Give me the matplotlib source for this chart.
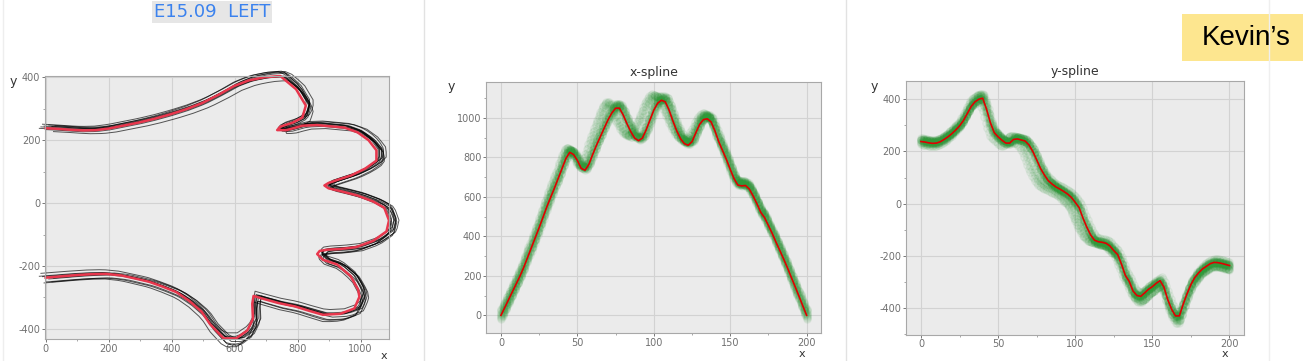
import numpy as np
import matplotlib
matplotlib.use("Agg")
import matplotlib.pyplot as plt
from matplotlib.lines import Line2D
from matplotlib.patches import Rectangle
from matplotlib.ticker import MultipleLocator

plt.rcParams["axes.unicode_minus"] = False

# mean spline, sampled every 2.5 steps of t
t_knots = np.arange(0, 200.1, 2.5)
x_mean = [0, 40, 80, 120, 160, 200, 245, 295, 345, 395,
          445, 497, 550, 598, 645, 695, 745, 795, 826, 815,
          785, 745, 735, 765, 815, 862, 905, 948, 990, 1025,
          1050, 1050, 1015, 970, 930, 898, 885, 898, 940, 990,
          1040, 1075, 1090, 1082, 1040, 985, 935, 895, 870, 862,
          880, 925, 968, 992, 996, 980, 935, 880, 835, 790,
          740, 693, 660, 656, 658, 640, 605, 565, 522, 495,
          455, 415, 370, 328, 285, 240, 192, 145, 97, 48,
          0]
y_mean = [238, 236, 233, 231, 232, 237, 246, 256, 268, 282,
          298, 318, 345, 372, 390, 400, 404, 362, 310, 272,
          256, 243, 232, 232, 246, 248, 244, 240, 225, 200,
          168, 135, 110, 88, 75, 64, 56, 47, 37, 24,
          5, -15, -55, -90, -120, -140, -146, -148, -152, -162,
          -180, -195, -232, -275, -298, -335, -352, -355, -342, -328,
          -318, -305, -295, -320, -368, -405, -430, -430, -385, -345,
          -310, -283, -265, -250, -240, -230, -225, -226, -229, -233,
          -237]

# individual traces: time shift at warp knots, scale and offset
warp_knots = [0, 25, 50, 75, 100, 125, 150, 175, 200]
trace_shift = [
    [0, 1, 2, 7, 6, 2, 1, 0, 0],
    [0, 1, 3, 8, 5, 1, 0, 0, 0],
    [0, 0, 1, 5, 4, 1, 0, 0, 0],
    [0, 0, 0, 0, 0, 0, 0, 0, 0],
    [0, -1, -1, -1, -1, -1, -1, 0, 0],
    [0, 0, -1, -1, -2, -1, -1, -1, 0],
    [0, 1, 0, -1, -1, -2, -1, 0, 0],
    [0, 0, 0, 1, 0, 0, 0, 0, 0],
    [0, -1, 0, -1, -1, -1, 0, 0, 0],
    [0, 0, 1, 0, 1, 0, 1, 0, 0],
]
trace_sx = [1.02, 1.00, 1.03, 1.01, 0.99, 1.03, 1.02, 0.98, 1.01, 1.04]
trace_dx = [10, 25, -10, 5, 20, -15, 0, 30, -5, -20]
trace_sy = [1.03, 0.98, 1.02, 1.00, 1.04, 0.98, 1.02, 1.01, 1.05, 0.99]
trace_dy = [3, -6, 8, 0, -4, 9, -9, 5, -5, 2]

W, H = 1303, 361
fig = plt.figure(figsize=(W / 100, H / 100), dpi=100)
fig.patch.set_facecolor("white")


def box(l, t, r, b):
    return [l / W, 1 - b / H, (r - l) / W, (b - t) / H]


def style(ax, xmaj, xmin, ymaj, ymin, ylab_pos, xlab_pos):
    ax.set_facecolor("#ebebeb")
    ax.grid(True, color="#d2d2d2", lw=0.8)
    ax.set_axisbelow(True)
    for s in ax.spines.values():
        s.set_color("#a8a8a8")
        s.set_linewidth(0.8)
    ax.xaxis.set_major_locator(MultipleLocator(xmaj))
    ax.xaxis.set_minor_locator(MultipleLocator(xmin))
    ax.yaxis.set_major_locator(MultipleLocator(ymaj))
    ax.yaxis.set_minor_locator(MultipleLocator(ymin))
    ax.tick_params(which="major", labelsize=7, colors="#777777", labelcolor="#707070",
                   length=2.5, width=0.7, pad=0.8)
    ax.tick_params(which="minor", colors="#999999", length=1.5, width=0.6)
    ax.set_ylabel("y", rotation=0, fontsize=9, color="#333333")
    ax.yaxis.set_label_coords(*ylab_pos)
    ax.set_xlabel("x", fontsize=8, color="#333333")
    ax.xaxis.set_label_coords(*xlab_pos)


t_fine = np.arange(0, 201)
traces_x, traces_y = [], []
for i in range(len(trace_shift)):
    tw = np.clip(t_fine + np.interp(t_fine, warp_knots, trace_shift[i]), 0, 200)
    traces_x.append(np.interp(tw, t_knots, x_mean) * trace_sx[i] + trace_dx[i])
    traces_y.append(np.interp(tw, t_knots, y_mean) * trace_sy[i] + trace_dy[i])

# left: shape
ax1 = fig.add_axes(box(45, 76, 389, 339))
for tx, ty in zip(traces_x, traces_y):
    ax1.plot(tx, ty, color="black", lw=0.7, alpha=0.65, clip_on=False)
ax1.plot(x_mean, y_mean, color="#e8374d", lw=1.8, clip_on=False)
ax1.set_xlim(-2, 1090)
ax1.set_ylim(-432, 404)
style(ax1, 200, 100, 200, 100, (-0.093, 0.954), (0.985, -0.045))

# middle: x-spline
ax2 = fig.add_axes(box(486, 81.7, 821.3, 333.3))
for tx in traces_x:
    ax2.plot(t_fine, tx, "o", ms=5.5, color="#2f9a3a", alpha=0.06, mew=0.8)
ax2.plot(t_knots, x_mean, color="#e00000", lw=1.2)
ax2.set_xlim(-9.8, 209.6)
ax2.set_ylim(-91, 1184)
ax2.set_title("x-spline", fontsize=9, color="#333333", pad=4)
style(ax2, 50, 25, 200, 100, (-0.102, 0.954), (0.942, -0.063))

# right: y-spline
ax3 = fig.add_axes(box(905.7, 80.7, 1244.3, 334.7))
for ty in traces_y:
    ax3.plot(t_fine, ty, "o", ms=5.5, color="#2f9a3a", alpha=0.06, mew=0.8)
ax3.plot(t_knots, y_mean, color="#e00000", lw=1.2)
ax3.set_xlim(-9.9, 209.6)
ax3.set_ylim(-502, 471)
ax3.set_title("y-spline", fontsize=9, color="#333333", pad=4)
style(ax3, 50, 25, 200, 100, (-0.094, 0.952), (0.943, -0.058))

# panel separators
for xs, c in [(3, "#eeeeee"), (424, "#e2e2e2"), (846, "#e2e2e2"), (1269, "#efefef")]:
    fig.add_artist(Line2D([xs / W, xs / W], [0, 1], transform=fig.transFigure, color=c, lw=1))

fig.text(212 / W, 1 - 12 / H, "E15.09  LEFT", ha="center", va="center",
         fontsize=13, color="#3b82ee",
         bbox=dict(facecolor="#e6e6e6", edgecolor="none", pad=1.5))

fig.add_artist(Rectangle((1182 / W, 1 - 61 / H), 121 / W, 47 / H,
                         transform=fig.transFigure, color="#fde68f", lw=0))
fig.text(1246 / W, 1 - 38 / H, "Kevin\u2019s", ha="center", va="center",
         fontsize=20, color="black", family="Liberation Sans")

fig.savefig("out.png", dpi=100)
